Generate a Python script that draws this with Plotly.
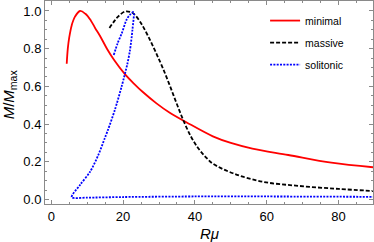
import plotly.graph_objects as go

# minimal
min_x = [4.3, 4.6, 5.0, 5.7, 6.6, 8.0, 9.5, 11.0, 12.2, 13.5, 15.5, 17.5, 20.5, 23.0, 25.5, 29.3, 33.0, 37.6, 45.0, 50.0, 56.0, 66.0, 78.0, 89.6]
min_y = [0.72, 0.80, 0.86, 0.925, 0.97, 1.0, 0.985, 0.95, 0.91, 0.87, 0.80, 0.74, 0.665, 0.615, 0.57, 0.51, 0.46, 0.41, 0.335, 0.30, 0.27, 0.236, 0.195, 0.171]

# massive
mas_x = [16.2, 17.5, 18.6, 20.5, 22.0, 23.0, 25.0, 27.0, 29.0, 31.0, 33.0, 35.0, 37.0, 39.0, 41.0, 43.0, 45.0, 50.6, 58.9, 69.0, 80.0, 89.6]
mas_y = [0.91, 0.945, 0.97, 0.997, 0.995, 0.985, 0.935, 0.865, 0.785, 0.70, 0.605, 0.505, 0.41, 0.33, 0.27, 0.225, 0.19, 0.139, 0.094, 0.072, 0.056, 0.045]

# solitonic
sol_x = [17.4, 18.5, 19.6, 21.0, 21.9, 22.9, 22.6, 21.9, 21.2, 19.6, 17.7, 15.8, 14.9, 13.1, 10.8, 8.0, 5.7, 10.0, 20.0, 40.0, 60.0, 89.6]
sol_y = [0.767, 0.83, 0.88, 0.955, 0.98, 0.995, 0.90, 0.79, 0.72, 0.60, 0.475, 0.37, 0.325, 0.236, 0.147, 0.077, 0.012, 0.010, 0.013, 0.016, 0.016, 0.014]

x_ticks = [0, 20, 40, 60, 80]
y_ticks = [0.0, 0.2, 0.4, 0.6, 0.8, 1.0]

FONT = "Liberation Sans, Arial, sans-serif"
FRAME = "#8a8a8a"

fig = go.Figure()
fig.add_trace(go.Scatter(x=min_x, y=min_y, mode="lines", name="minimal", legendgroup="a",
                         line=dict(color="#ff0000", width=1.8, shape="spline", smoothing=1.0)))
fig.add_trace(go.Scatter(x=mas_x, y=mas_y, mode="lines", name="massive", legendgroup="b",
                         line=dict(color="#000000", width=1.8, dash="4px,2px", shape="spline", smoothing=1.0)))
fig.add_trace(go.Scatter(x=sol_x, y=sol_y, mode="lines", name="solitonic", legendgroup="c",
                         line=dict(color="#0000ff", width=1.8, dash="2px,1.3px", shape="spline", smoothing=0.8)))

axis_common = dict(showgrid=False, zeroline=False, showline=True, linecolor=FRAME, linewidth=1,
                   mirror="ticks", ticks="inside", ticklen=4, tickcolor=FRAME, tickwidth=1,
                   automargin=False,
                   tickfont=dict(family=FONT, size=13, color="black"))

fig.update_xaxes(range=[-1.75, 89.6], tickvals=x_ticks,
                 minor=dict(dtick=5, ticks="inside", ticklen=2, tickcolor=FRAME), **axis_common)
fig.update_yaxes(range=[-0.024, 1.053], tickvals=y_ticks, tickformat=".1f",
                 minor=dict(dtick=0.05, ticks="inside", ticklen=2, tickcolor=FRAME), **axis_common)

fig.add_annotation(text="<i>Rμ</i>", xref="paper", yref="paper", x=0.5, y=-0.143,
                   xanchor="center", yanchor="middle", showarrow=False,
                   font=dict(family=FONT, size=15, color="black"))
fig.add_annotation(text="<i>M</i>/<i>M</i><sub>max</sub>", xref="paper", yref="paper",
                   x=-0.11, y=0.54, xanchor="center", yanchor="middle", textangle=-90,
                   showarrow=False, font=dict(family=FONT, size=15, color="black"))

fig.update_layout(
    width=374, height=242,
    margin=dict(l=45, r=1, t=1, b=38, autoexpand=False),
    plot_bgcolor="white", paper_bgcolor="white",
    showlegend=True,
    legend=dict(x=0.671, y=0.975, xanchor="left", yanchor="top",
                bgcolor="rgba(0,0,0,0)", font=dict(family=FONT, size=10.5, color="black"),
                itemwidth=30, tracegroupgap=3),
)

fig.write_html("out.html", config={"displayModeBar": False},
               post_script="document.body.style.margin='0';document.body.style.overflow='hidden';")
